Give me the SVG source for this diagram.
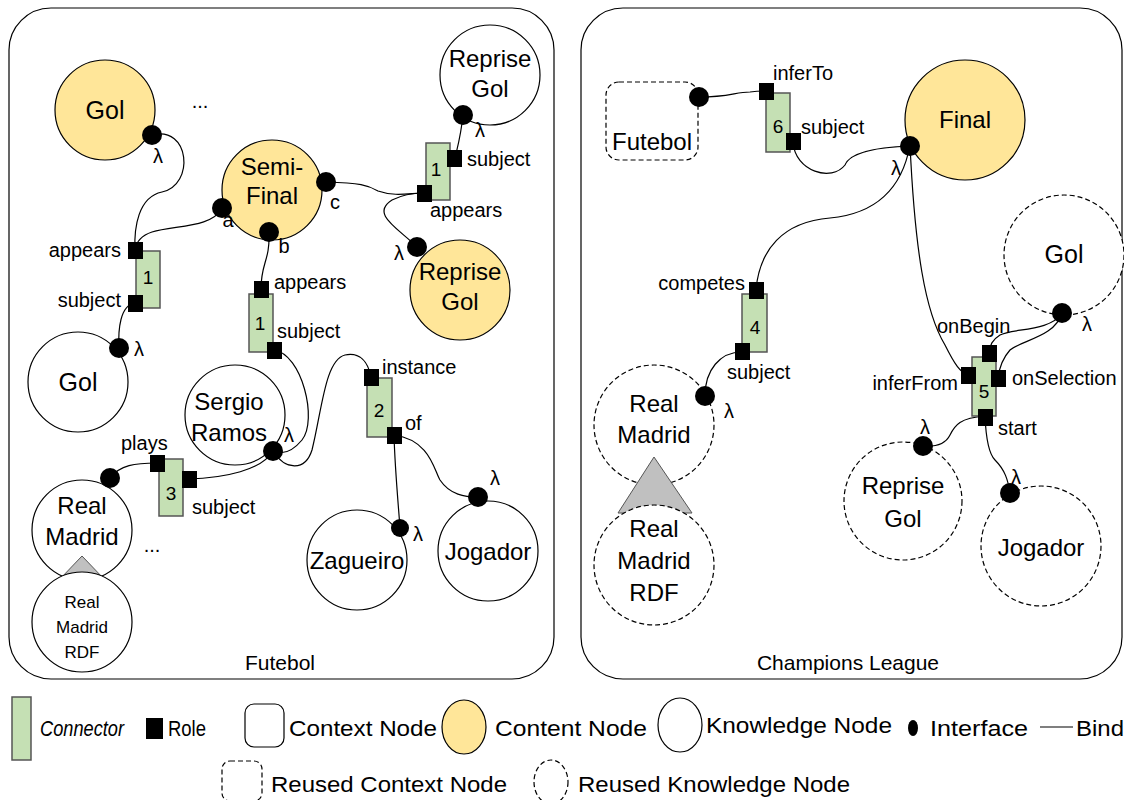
<svg xmlns="http://www.w3.org/2000/svg" width="1124" height="800" viewBox="0 0 1124 800">
<style>
text{font-family:"Liberation Sans",Arial,sans-serif;fill:#000}
.nt{font-size:24px;text-anchor:middle}
.lb{font-size:20px}
.num{font-size:19px;text-anchor:middle}
.lg{font-size:22px}
.ctx{fill:#fff;stroke:#000;stroke-width:1.2}
.kn{fill:#fff;stroke:#000;stroke-width:1.2}
.cn{fill:#ffe699;stroke:#000;stroke-width:1.2}
.rk{fill:#fff;stroke:#000;stroke-width:1.2;stroke-dasharray:5 3}
.conn{fill:#c5e0b4;stroke:#555;stroke-width:1.5}
.role{fill:#000}
.itf{fill:#000}
.bind{fill:none;stroke:#000;stroke-width:1.2}
.tri{fill:#c0c0c0;stroke:#555;stroke-width:1}
</style>

<g id="ctx-futebol">
<rect x="9" y="8" width="545" height="671" rx="42" class="ctx"/>
<text x="280" y="670" class="nt" style="font-size:21px">Futebol</text>
</g>
<g id="ctx-champions">
<rect x="581" y="8" width="541" height="671" rx="42" class="ctx"/>
<text x="848" y="670" class="nt" style="font-size:21px">Champions League</text>
</g>

<g id="binds">
<path class="bind" d="M152,135 C190,125 195,185 162,192 C138,197 134,228 135,250"/>
<path class="bind" d="M222,208 C212,228 175,225 152,232 C140,236 136,243 135,250"/>
<path class="bind" d="M269,232 C270,262 261,262 261,289"/>
<path class="bind" d="M326,182 C360,183 368,185 378,191 C395,197 410,193 423,193"/>
<path class="bind" d="M417,247 C398,228 370,214 392,200 C402,195 415,193 423,193"/>
<path class="bind" d="M463,115 C461,135 458,145 455,158"/>
<path class="bind" d="M135,303 C120,305 118,330 119,348"/>
<path class="bind" d="M274,350 C302,354 318,420 302,440 C292,452 282,455 273,451"/>
<path class="bind" d="M157,463 C135,463 120,465 110,478"/>
<path class="bind" d="M188,479 C225,478 262,470 273,451"/>
<path class="bind" d="M273,451 C285,470 305,472 312,450 C322,410 325,360 345,355 C360,352 368,362 371,377"/>
<path class="bind" d="M394,435 C395,470 398,500 400,528"/>
<path class="bind" d="M394,435 C430,440 434,470 440,480 C450,495 465,497 478,497"/>

<path class="bind" d="M699,97 C730,97 735,92 750,92 C758,91 763,91 766,91"/>
<path class="bind" d="M793,142 C795,172 832,182 845,165 C850,152 880,147 910,146"/>
<path class="bind" d="M910,145 C900,200 862,215 830,218 C782,222 760,250 756,289"/>
<path class="bind" d="M910,145 C915,250 925,312 945,345 C955,365 960,372 968,375"/>
<path class="bind" d="M742,352 C720,352 705,370 705,396"/>
<path class="bind" d="M1062,313 C1050,332 1012,328 1000,335 C992,340 990,345 989,353"/>
<path class="bind" d="M1062,313 C1055,337 1022,340 1010,350 C1001,360 999,370 998,378"/>
<path class="bind" d="M985,416 C960,418 955,425 950,435 C945,445 935,447 923,446"/>
<path class="bind" d="M985,416 C986,440 990,455 995,460 C1005,470 1008,480 1010,493"/>
</g>

<g id="gol-content">
<circle cx="105" cy="110" r="50" class="cn"/>
<text x="105" y="119" class="nt" style="font-size:25px">Gol</text>
<circle cx="152" cy="135" r="10" class="itf"/>
<text x="158" y="163" class="lb" text-anchor="middle">λ</text>
</g>
<text x="200" y="108" class="lb" text-anchor="middle">...</text>

<g id="semifinal">
<circle cx="272" cy="190" r="50" class="cn"/>
<text x="272" y="175" class="nt">Semi-</text>
<text x="272" y="204" class="nt">Final</text>
<circle cx="222" cy="208" r="10" class="itf"/>
<text x="228" y="227" class="lb" text-anchor="middle">a</text>
<circle cx="326" cy="182" r="10" class="itf"/>
<text x="335" y="209" class="lb" text-anchor="middle">c</text>
<circle cx="269" cy="232" r="10" class="itf"/>
<text x="284" y="253" class="lb" text-anchor="middle">b</text>
</g>

<g id="reprise-kn">
<circle cx="490" cy="75" r="50" class="kn"/>
<text x="490" y="67" class="nt">Reprise</text>
<text x="490" y="97" class="nt">Gol</text>
<circle cx="463" cy="115" r="10" class="itf"/>
<text x="480" y="137" class="lb" text-anchor="middle">λ</text>
</g>

<g id="conn1-a">
<rect x="426" y="143" width="24" height="57" class="conn"/>
<text x="436" y="176" class="num">1</text>
<rect x="447" y="150" width="15" height="17" class="role"/>
<rect x="417" y="185" width="15" height="17" class="role"/>
<text x="467" y="166" class="lb">subject</text>
<text x="430" y="217" class="lb">appears</text>
</g>

<g id="reprise-cn">
<circle cx="460" cy="290" r="50" class="cn"/>
<text x="460" y="280" class="nt">Reprise</text>
<text x="460" y="310" class="nt">Gol</text>
<circle cx="417" cy="247" r="10" class="itf"/>
<text x="399" y="260" class="lb" text-anchor="middle">λ</text>
</g>

<g id="conn1-b">
<rect x="136" y="251" width="24" height="57" class="conn"/>
<text x="148" y="284" class="num">1</text>
<rect x="128" y="242" width="15" height="17" class="role"/>
<rect x="128" y="295" width="15" height="17" class="role"/>
<text x="121" y="257" class="lb" text-anchor="end">appears</text>
<text x="121" y="307" class="lb" text-anchor="end">subject</text>
</g>

<g id="gol-kn">
<circle cx="78" cy="382" r="50" class="kn"/>
<text x="78" y="391" class="nt" style="font-size:25px">Gol</text>
<circle cx="119" cy="348" r="10" class="itf"/>
<text x="139" y="356" class="lb" text-anchor="middle">λ</text>
</g>

<g id="conn1-c">
<rect x="249" y="294" width="24" height="58" class="conn"/>
<text x="260" y="330" class="num">1</text>
<rect x="254" y="281" width="15" height="17" class="role"/>
<rect x="267" y="342" width="15" height="17" class="role"/>
<text x="274" y="289" class="lb">appears</text>
<text x="277" y="338" class="lb">subject</text>
</g>

<g id="sergio">
<circle cx="235" cy="415" r="50" class="kn"/>
<text x="229" y="410" class="nt">Sergio</text>
<text x="229" y="441" class="nt">Ramos</text>
<circle cx="273" cy="451" r="10" class="itf"/>
<text x="289" y="442" class="lb" text-anchor="middle">λ</text>
</g>

<g id="conn3">
<rect x="159" y="459" width="24" height="57" class="conn"/>
<text x="171" y="500" class="num">3</text>
<rect x="150" y="455" width="15" height="17" class="role"/>
<rect x="182" y="471" width="15" height="17" class="role"/>
<text x="121" y="450" class="lb">plays</text>
<text x="192" y="514" class="lb">subject</text>
</g>

<g id="realmadrid">
<circle cx="82" cy="530" r="50" class="kn"/>
<text x="82" y="514" class="nt">Real</text>
<text x="82" y="545" class="nt">Madrid</text>
<circle cx="110" cy="478" r="10" class="itf"/>
</g>
<text x="152" y="552" class="lb" text-anchor="middle">...</text>

<g id="realmadrid-rdf">
<polygon points="82,556 60,579 104,579" class="tri"/>
<circle cx="82" cy="622" r="50" class="kn"/>
<text x="82" y="608" class="nt" style="font-size:17px">Real</text>
<text x="82" y="633" class="nt" style="font-size:17px">Madrid</text>
<text x="82" y="658" class="nt" style="font-size:17px">RDF</text>
</g>

<g id="conn2">
<rect x="367" y="378" width="25" height="59" class="conn"/>
<text x="379" y="417" class="num">2</text>
<rect x="364" y="369" width="15" height="17" class="role"/>
<rect x="387" y="427" width="15" height="17" class="role"/>
<text x="382" y="374" class="lb">instance</text>
<text x="405" y="430" class="lb">of</text>
</g>

<g id="zagueiro">
<circle cx="357" cy="560" r="50" class="kn"/>
<text x="357" y="569" class="nt">Zagueiro</text>
<circle cx="400" cy="528" r="9" class="itf"/>
<text x="418" y="541" class="lb" text-anchor="middle">λ</text>
</g>

<g id="jogador">
<circle cx="488" cy="551" r="50" class="kn"/>
<text x="488" y="560" class="nt">Jogador</text>
<circle cx="478" cy="497" r="10" class="itf"/>
<text x="495" y="485" class="lb" text-anchor="middle">λ</text>
</g>

<!-- Right panel -->
<g id="futebol-reused">
<rect x="606" y="82" width="92" height="78" rx="13" class="rk"/>
<text x="652" y="150" class="nt">Futebol</text>
<circle cx="699" cy="97" r="10" class="itf"/>
</g>

<g id="conn6">
<rect x="766" y="93" width="24" height="59" class="conn"/>
<text x="778" y="133" class="num">6</text>
<rect x="759" y="83" width="15" height="17" class="role"/>
<rect x="786" y="133" width="15" height="17" class="role"/>
<text x="773" y="80" class="lb">inferTo</text>
<text x="801" y="134" class="lb">subject</text>
</g>

<g id="final">
<circle cx="965" cy="120" r="60" class="cn"/>
<text x="965" y="128" class="nt">Final</text>
<circle cx="910" cy="146" r="10" class="itf"/>
<text x="896" y="175" class="lb" text-anchor="middle">λ</text>
</g>

<g id="conn4">
<rect x="742" y="294" width="25" height="58" class="conn"/>
<text x="755" y="334" class="num">4</text>
<rect x="749" y="282" width="15" height="17" class="role"/>
<rect x="735" y="343" width="15" height="17" class="role"/>
<text x="745" y="290" class="lb" text-anchor="end">competes</text>
<text x="727" y="379" class="lb">subject</text>
</g>

<g id="realmadrid-reused">
<circle cx="654" cy="425" r="60" class="rk"/>
<text x="654" y="412" class="nt">Real</text>
<text x="654" y="443" class="nt">Madrid</text>
<circle cx="705" cy="396" r="10" class="itf"/>
<text x="729" y="418" class="lb" text-anchor="middle">λ</text>
</g>

<g id="realmadrid-rdf-reused">
<polygon points="654,457 618,513 692,513" class="tri"/>
<circle cx="654" cy="565" r="60" class="rk"/>
<text x="654" y="537" class="nt">Real</text>
<text x="654" y="569" class="nt">Madrid</text>
<text x="654" y="601" class="nt">RDF</text>
</g>

<g id="gol-reused">
<circle cx="1064" cy="255" r="60" class="rk"/>
<text x="1064" y="263" class="nt" style="font-size:25px">Gol</text>
<circle cx="1062" cy="313" r="10" class="itf"/>
<text x="1087" y="331" class="lb" text-anchor="middle">λ</text>
</g>

<g id="conn5">
<rect x="972" y="357" width="24" height="59" class="conn"/>
<text x="984" y="398" class="num">5</text>
<rect x="982" y="345" width="15" height="17" class="role"/>
<rect x="961" y="367" width="15" height="17" class="role"/>
<rect x="991" y="370" width="15" height="17" class="role"/>
<rect x="978" y="409" width="15" height="17" class="role"/>
<text x="937" y="333" class="lb">onBegin</text>
<text x="958" y="390" class="lb" text-anchor="end">inferFrom</text>
<text x="1012" y="385" class="lb">onSelection</text>
<text x="998" y="435" class="lb">start</text>
</g>

<g id="reprise-reused">
<circle cx="903" cy="501" r="59" class="rk"/>
<text x="903" y="494" class="nt">Reprise</text>
<text x="903" y="527" class="nt">Gol</text>
<circle cx="923" cy="446" r="10" class="itf"/>
<text x="925" y="434" class="lb" text-anchor="middle">λ</text>
</g>

<g id="jogador-reused">
<circle cx="1041" cy="546" r="60" class="rk"/>
<text x="1041" y="556" class="nt">Jogador</text>
<circle cx="1010" cy="493" r="10" class="itf"/>
<text x="1016" y="484" class="lb" text-anchor="middle">λ</text>
</g>

<!-- Legend -->
<g id="legend">
<rect x="12" y="697" width="19" height="63" class="conn"/>
<text x="40" y="736" class="lg" font-style="italic" textLength="84" lengthAdjust="spacingAndGlyphs">Connector</text>
<rect x="146" y="718" width="17" height="21" class="role"/>
<text x="168" y="736" class="lg" textLength="38" lengthAdjust="spacingAndGlyphs">Role</text>
<rect x="245" y="704" width="39" height="43" rx="9" class="ctx"/>
<text x="289" y="736" class="lg" textLength="148" lengthAdjust="spacingAndGlyphs">Context Node</text>
<ellipse cx="464" cy="727" rx="22" ry="27" class="cn"/>
<text x="495" y="736" class="lg" textLength="152" lengthAdjust="spacingAndGlyphs">Content Node</text>
<ellipse cx="680" cy="725" rx="22" ry="27" class="kn"/>
<text x="706" y="733" class="lg" textLength="186" lengthAdjust="spacingAndGlyphs">Knowledge Node</text>
<ellipse cx="913" cy="728" rx="5" ry="8" class="itf"/>
<text x="930" y="736" class="lg" textLength="98" lengthAdjust="spacingAndGlyphs">Interface</text>
<line x1="1040" y1="727" x2="1073" y2="727" stroke="#000" stroke-width="1.2"/>
<text x="1076" y="736" class="lg" textLength="48" lengthAdjust="spacingAndGlyphs">Bind</text>
<rect x="222" y="761" width="40" height="40" rx="8" class="rk"/>
<text x="271" y="792" class="lg" textLength="236" lengthAdjust="spacingAndGlyphs">Reused Context Node</text>
<ellipse cx="551" cy="782" rx="17" ry="22" class="rk"/>
<text x="578" y="792" class="lg" textLength="272" lengthAdjust="spacingAndGlyphs">Reused Knowledge Node</text>
</g>
</svg>
